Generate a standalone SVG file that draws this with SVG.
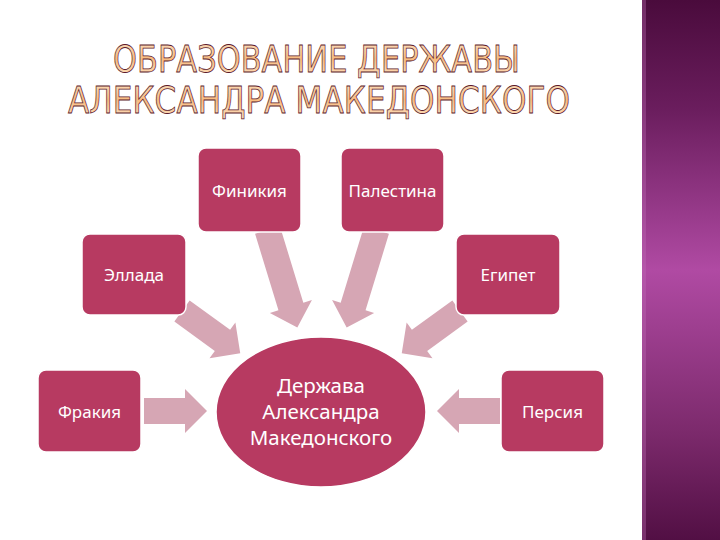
<svg xmlns="http://www.w3.org/2000/svg" width="720" height="540" viewBox="0 0 720 540">
  <defs>
    <linearGradient id="strip" x1="0" y1="0" x2="0" y2="1">
      <stop offset="0" stop-color="#4a0b3c"/>
      <stop offset="0.2" stop-color="#6a1d5d"/>
      <stop offset="0.5" stop-color="#b04aa3"/>
      <stop offset="0.8" stop-color="#7c2a6c"/>
      <stop offset="1" stop-color="#520f44"/>
    </linearGradient>
    <linearGradient id="titleFill" x1="0" y1="0" x2="0" y2="1">
      <stop offset="0" stop-color="#fde6cc"/>
      <stop offset="0.5" stop-color="#f7bb80"/>
      <stop offset="1" stop-color="#fde6cc"/>
    </linearGradient>
    <style>
      .title { font-family: "DejaVu Sans", "Liberation Sans", sans-serif; font-size: 38px; fill: url(#titleFill); stroke: #5c1a2c; stroke-width: 0.8; text-anchor: middle; }
      .box { fill: #b73a61; stroke: #ffffff; stroke-width: 1.5; }
      .lbl { font-family: "Noto Sans", "Liberation Sans", sans-serif; font-size: 17px; fill: #ffffff; text-anchor: middle; }
      .clbl { font-family: "Noto Sans", "Liberation Sans", sans-serif; font-size: 20.5px; fill: #ffffff; text-anchor: middle; }
      .arr { fill: #d6a6b4; }
    </style>
  </defs>
  <rect x="0" y="0" width="720" height="540" fill="#ffffff"/>
  <rect x="642" y="0" width="78" height="540" fill="url(#strip)"/>
  <rect x="642" y="0" width="4" height="540" fill="#c070b8" opacity="0.35"/>

  <g id="title">
    <text class="title" x="316.5" y="72" textLength="407" lengthAdjust="spacingAndGlyphs">ОБРАЗОВАНИЕ ДЕРЖАВЫ</text>
    <text class="title" x="319" y="113" textLength="502" lengthAdjust="spacingAndGlyphs">АЛЕКСАНДРА МАКЕДОНСКОГО</text>
  </g>

  <g id="connectors">
    <polygon class="arr" transform="translate(144,411)" points="0,-13 41,-13 41,-22 63,0 41,22 41,13 0,13"/>
    <polygon class="arr" transform="translate(500,411) rotate(180)" points="0,-13 41,-13 41,-22 63,0 41,22 41,13 0,13"/>
    <polygon class="arr" transform="translate(182,311) rotate(36)" points="0,-13 50,-13 50,-22 72,0 50,22 50,13 0,13"/>
    <polygon class="arr" transform="translate(460,311) rotate(144)" points="0,-13 50,-13 50,-22 72,0 50,22 50,13 0,13"/>
    <polygon class="arr" transform="translate(267.5,230) rotate(73)" points="0,-13 80,-13 80,-22 102,0 80,22 80,13 0,13"/>
    <polygon class="arr" transform="translate(376.5,230) rotate(107)" points="0,-13 80,-13 80,-22 102,0 80,22 80,13 0,13"/>
  </g>

  <g id="finikiya">
    <rect class="box" x="198" y="148" width="103" height="84" rx="8"/>
    <text class="lbl" x="249.5" y="197">Финикия</text>
  </g>
  <g id="palestina">
    <rect class="box" x="341" y="148" width="103" height="84" rx="8"/>
    <text class="lbl" x="392.5" y="197">Палестина</text>
  </g>
  <g id="ellada">
    <rect class="box" x="82" y="234" width="104" height="81" rx="8"/>
    <text class="lbl" x="134" y="281">Эллада</text>
  </g>
  <g id="egipet">
    <rect class="box" x="456" y="234" width="104" height="81" rx="8"/>
    <text class="lbl" x="508" y="281">Египет</text>
  </g>
  <g id="frakiya">
    <rect class="box" x="38" y="370" width="103" height="82" rx="8"/>
    <text class="lbl" x="89.5" y="418">Фракия</text>
  </g>
  <g id="persiya">
    <rect class="box" x="501" y="370" width="103" height="82" rx="8"/>
    <text class="lbl" x="552.5" y="418">Персия</text>
  </g>
  <g id="center">
    <ellipse class="box" cx="321" cy="412" rx="105" ry="75"/>
    <text class="clbl" x="321" y="393">Держава</text>
    <text class="clbl" x="321" y="419">Александра</text>
    <text class="clbl" x="321" y="445">Македонского</text>
  </g>
</svg>
